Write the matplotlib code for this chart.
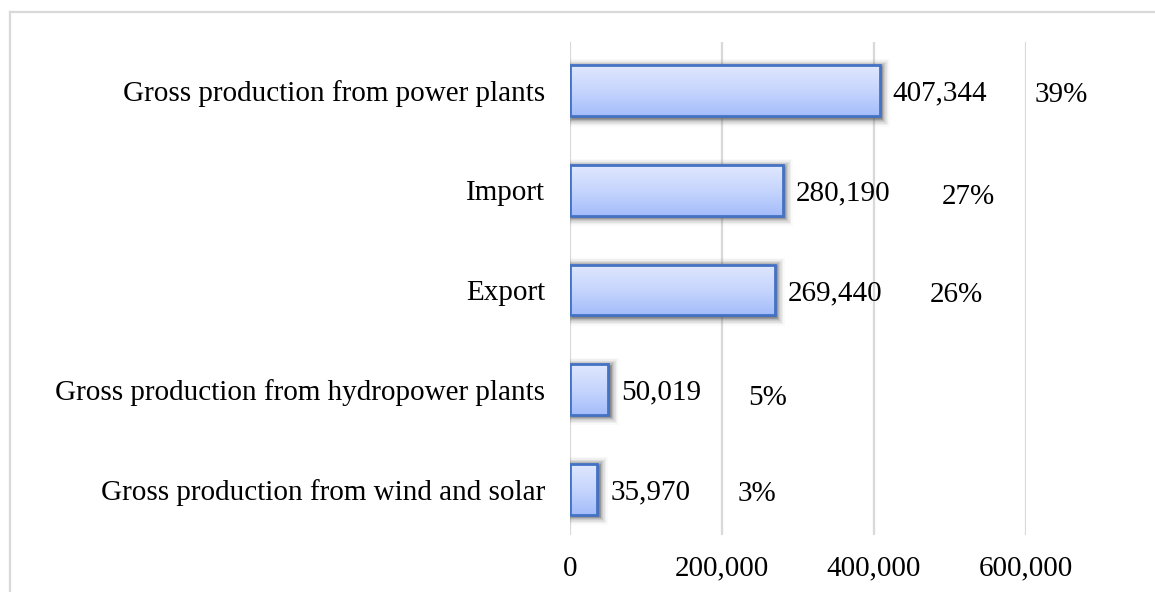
import numpy as np
import matplotlib
matplotlib.use("Agg")
import matplotlib.pyplot as plt
from matplotlib.patches import Rectangle, FancyBboxPatch
from matplotlib.colors import LinearSegmentedColormap
from matplotlib.ticker import FuncFormatter
import matplotlib.transforms as mtransforms

# ---- data ----
categories = [
    "Gross production from power plants",
    "Import",
    "Export",
    "Gross production from hydropower plants",
    "Gross production from wind and solar",
]
values = [407344, 280190, 269440, 50019, 35970]
value_labels = ["407,344", "280,190", "269,440", "50,019", "35,970"]
pct_labels = ["39%", "27%", "26%", "5%", "3%"]
x_ticks = [0, 200000, 400000, 600000]

# ---- styling ----
pct_dx_px = [155, 159, 155, 140, 140]   # pixel offset of percentage label from bar end
pct_dy_px = [-4, -7, -5, -8, -5]
FONT = "Liberation Serif"
FS = 21

plt.rcParams['font.family'] = [FONT, 'DejaVu Serif']

W, H = 1155, 592
fig = plt.figure(figsize=(W / 100, H / 100), dpi=100)

# figure frame (top and left borders visible)
fig.add_artist(plt.Line2D([10 / W, 1.0], [1 - 12 / H, 1 - 12 / H], color="#d9d9d9", lw=1.6,
                          transform=fig.transFigure))
fig.add_artist(plt.Line2D([10 / W, 10 / W], [0, 1 - 12 / H], color="#d9d9d9", lw=1.6,
                          transform=fig.transFigure))

ax_l, ax_r, ax_t, ax_b = 570, 1026, 42, 535
ax = fig.add_axes([ax_l / W, 1 - ax_b / H, (ax_r - ax_l) / W, (ax_b - ax_t) / H])
ax.set_xlim(0, 600000)
ax.set_ylim(4.46, -0.49)

for s in ax.spines.values():
    s.set_visible(False)
ax.set_xticks(x_ticks)
ax.xaxis.set_major_formatter(FuncFormatter(lambda v, p: f"{int(v):,}"))
ax.grid(axis="x", color="#d9d9d9", lw=1.6)
ax.set_axisbelow(True)
ax.tick_params(axis="x", length=0, pad=15, labelsize=FS)
ax.tick_params(axis="y", length=0, pad=18, labelsize=FS)
ax.set_yticks(range(len(categories)))
ax.set_yticklabels(categories)

height = 0.51
cmap = LinearSegmentedColormap.from_list("g", ["#e0e8fe", "#c6d5fd", "#a3bcfa"])
grad = np.linspace(0, 1, 256).reshape(-1, 1)

bars = ax.barh(range(len(values)), values, height=height, color="none",
               edgecolor="#4472c4", linewidth=2.0, zorder=4)

for i, (b, v) in enumerate(zip(bars, values)):
    x0, y0 = b.get_x(), b.get_y()
    w, h = b.get_width(), b.get_height()
    # blurred shadow
    off = mtransforms.offset_copy(ax.transData, fig=fig, x=1.5, y=-1.5, units="dots")
    for k, a in zip(range(1, 7), [0.28, 0.2, 0.14, 0.09, 0.055, 0.03]):
        sh = FancyBboxPatch((x0, y0), w, h, boxstyle="square,pad=0", facecolor="#505050",
                            edgecolor="#505050", lw=k * 2.0, alpha=a, zorder=2,
                            transform=off)
        ax.add_patch(sh)
    # white base to hide shadow under bar
    ax.add_patch(Rectangle((x0, y0), w, h, facecolor="white", edgecolor="none", zorder=2.5))
    im = ax.imshow(grad, cmap=cmap, aspect="auto", extent=(x0, x0 + w, y0 + h, y0),
                   origin="upper", zorder=3, interpolation="bilinear")
    im.set_clip_path(b)
    # value label
    ax.annotate(value_labels[i], xy=(v, i), xytext=(13, -3), textcoords="offset pixels",
                ha="left", va="center", fontsize=FS, color="#000000", zorder=5)
    ax.annotate(pct_labels[i], xy=(v, i), xytext=(pct_dx_px[i], pct_dy_px[i]),
                textcoords="offset pixels", ha="left", va="center", fontsize=FS,
                color="#000000", zorder=5)

ax.set_xlim(0, 600000)
ax.set_ylim(4.46, -0.49)

fig.savefig("out.png", dpi=100)
